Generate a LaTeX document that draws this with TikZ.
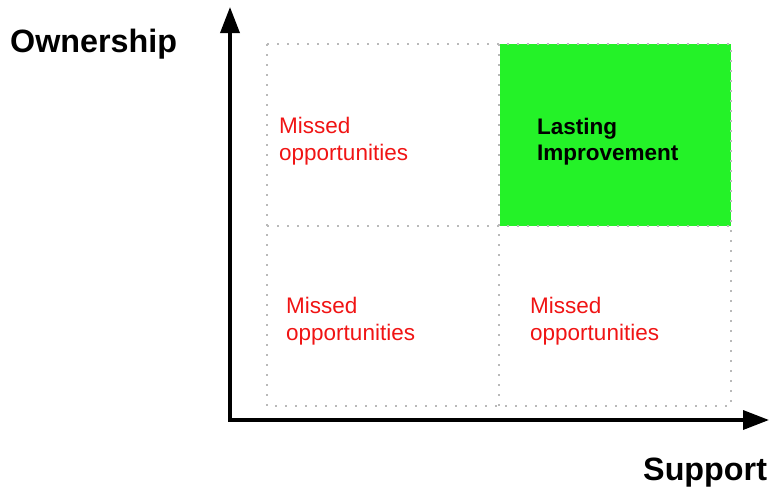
\documentclass[tikz,border=0pt]{standalone}
\usepackage{fontspec}
\setmainfont{Liberation Sans}
\usetikzlibrary{arrows.meta}
\definecolor{lastgreen}{RGB}{36,242,40}
\definecolor{missred}{RGB}{240,20,20}
\definecolor{gridgray}{RGB}{185,185,185}
\begin{document}
\begin{tikzpicture}[x=1pt,y=-1pt,
  axis/.style={line width=3.5pt,-{Triangle[length=26pt,width=19pt]}},
  gridline/.style={gridgray,line width=1.6pt,dash pattern=on 1.6pt off 8.4pt},
  axislabel/.style={font=\fontsize{32.3}{35}\selectfont\bfseries,anchor=base west,inner sep=0pt},
  missed/.style={font=\fontsize{22.5}{26.5}\selectfont,text=missred,align=left,anchor=north west,inner sep=0pt},
  lasting/.style={font=\fontsize{22.5}{26.5}\selectfont\bfseries,text=black,align=left,anchor=north west,inner sep=0pt}]
\useasboundingbox (0,0) rectangle (771,488);
% green quadrant
\fill[lastgreen] (500,44) rectangle (731,226);
% dotted grid
\draw[gridline] (267,44) rectangle (731,406);
\draw[gridline] (499,44) -- (499,406);
\draw[gridline] (267,226) -- (731,226);
% axes
\coordinate (origin) at (230,420);
\coordinate (ytip) at (230,7);
\coordinate (xtip) at (769,420);
\draw[axis] ([yshift=-1.75pt]origin) -- (ytip);
\draw[axis] ([xshift=-1.75pt]origin) -- (xtip);
% labels
\node[axislabel] (own) at (10,52.5) {Ownership};
\node[axislabel] (sup) at (643,480.5) {Support};
\node[missed] (tl) at (279,117) {Missed\\opportunities};
\node[lasting] (tr) at (537,117.5) {Lasting\\Improvement};
\node[missed] (bl) at (286,297) {Missed\\opportunities};
\node[missed] (br) at (530,297) {Missed\\opportunities};
\end{tikzpicture}
\end{document}
